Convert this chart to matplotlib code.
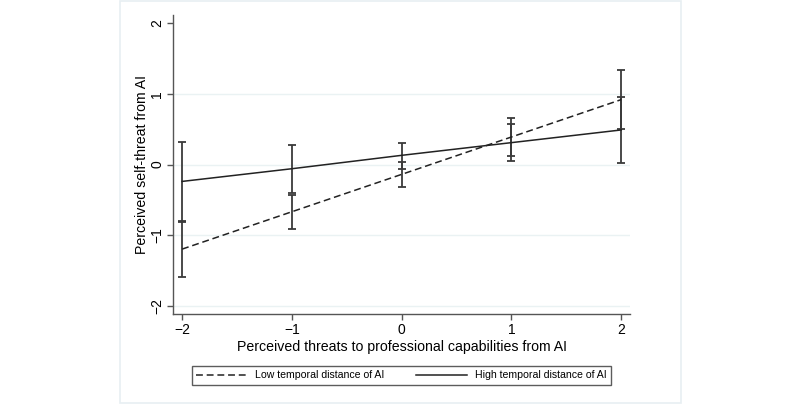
import matplotlib
matplotlib.use("Agg")
import matplotlib.pyplot as plt
from matplotlib.patches import Rectangle
import numpy as np

plt.rcParams['font.family'] = ['Liberation Sans', 'DejaVu Sans']

# values
x = [-2, -1, 0, 1, 2]
low_mean = [-1.20, -0.67, -0.14, 0.39, 0.92]
low_lo = [-1.59, -0.91, -0.32, 0.12, 0.50]
low_hi = [-0.81, -0.43, 0.03, 0.66, 1.34]
high_mean = [-0.24, -0.06, 0.13, 0.31, 0.49]
high_lo = [-0.80, -0.40, -0.06, 0.05, 0.02]
high_hi = [0.32, 0.28, 0.31, 0.57, 0.96]
yticks = [-2, -1, 0, 1, 2]

fig = plt.figure(figsize=(8, 4.08), dpi=100)
# light outer frame like the stata graph region
fig.patches.append(Rectangle((120/800, 5/408), 561/800, 402/408, transform=fig.transFigure,
                             fill=False, edgecolor='#e8eff2', lw=1.2))
ax = fig.add_axes([173.3/800, 1-314/408, (630-173.3)/800, (314-15)/408])

for yt in yticks[:-1]:
    ax.axhline(yt, color='#eaf2f3', lw=1.0, zorder=0)

ecol = '#3a3a3a'
low_err = [np.array(low_mean) - np.array(low_lo), np.array(low_hi) - np.array(low_mean)]
high_err = [np.array(high_mean) - np.array(high_lo), np.array(high_hi) - np.array(high_mean)]
ax.errorbar(x, low_mean, yerr=low_err, fmt='none', ecolor=ecol, elinewidth=1.3, capsize=2.6, capthick=1.3)
ax.errorbar(x, high_mean, yerr=high_err, fmt='none', ecolor=ecol, elinewidth=1.3, capsize=2.6, capthick=1.3)
l1, = ax.plot(x, low_mean, color='#222222', lw=1.1, dashes=(4.5, 2.5), label='Low temporal distance of AI')
l2, = ax.plot(x, high_mean, color='#222222', lw=1.1, label='High temporal distance of AI')

ax.set_xlim(-2.08, 2.08)
ax.set_ylim(-2.12, 2.12)
ax.set_xticks(x)
ax.set_yticks(yticks)
ax.set_xticklabels(['\u22122', '\u22121', '0', '1', '2'], fontsize=10)
ax.set_yticklabels(['\u22122', '\u22121', '0', '1', '2'], fontsize=10, rotation=90, va='center')
for s in ['top', 'right']:
    ax.spines[s].set_visible(False)
for s in ['left', 'bottom']:
    ax.spines[s].set_color('#555555')
    ax.spines[s].set_linewidth(1.0)
ax.tick_params(colors='#555555', labelcolor='black', length=4, width=1.0, pad=2.5)
ax.set_xlabel('Perceived threats to professional capabilities from AI', fontsize=10.2, labelpad=2)
ax.set_ylabel('Perceived self-threat from AI', fontsize=10.2, labelpad=1)

leg = fig.legend(handles=[l1, l2], loc='center', ncol=2, mode='expand',
                 bbox_to_anchor=(192/800, 1-388/408, 419/800, 25/408),
                 fontsize=7.6, frameon=True, fancybox=False, handlelength=4.8,
                 borderaxespad=0, columnspacing=4)
leg.get_frame().set_edgecolor('#333333')
leg.get_frame().set_linewidth(1.0)

fig.savefig('out.png', dpi=100)
